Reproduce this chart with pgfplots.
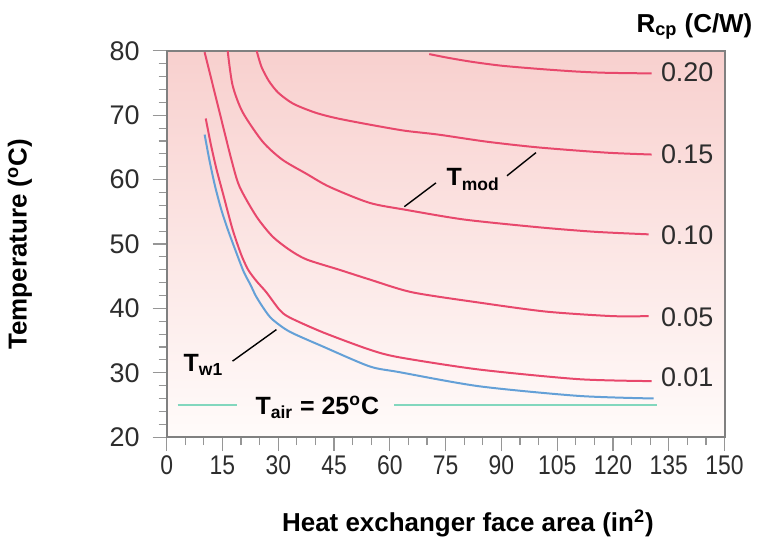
\documentclass[border=0pt]{standalone}
\usepackage{fontspec}
\setmainfont{Liberation Sans}
\usepackage{pgfplots}
\pgfplotsset{compat=1.18}

\definecolor{rcurve}{RGB}{232,72,108}
\definecolor{bcurve}{RGB}{100,160,215}
\definecolor{gcurve}{RGB}{130,215,190}
\definecolor{bgtop}{RGB}{248,208,206}
\definecolor{bgbot}{RGB}{255,251,250}
\definecolor{tickgray}{RGB}{150,150,150}
\definecolor{labgray}{RGB}{45,45,45}

\newcommand{\tfont}{\fontsize{13.5bp}{16bp}\selectfont}
\newcommand{\bfont}{\fontsize{13bp}{15bp}\selectfont\bfseries}

\begin{document}
\begin{tikzpicture}
\begin{axis}[
  scale only axis,
  width=279.5bp, height=193.5bp,
  xmin=0, xmax=150, ymin=20, ymax=80,
  xtick={0,15,...,150}, ytick={20,30,...,80},
  minor x tick num=2, minor y tick num=4,
  tick align=outside,
  xtick pos=bottom, ytick pos=left,
  major tick length=7bp, minor tick length=4bp,
  every tick/.style={tickgray, line width=0.6bp},
  axis line style={gray, line width=1bp},
  axis background/.style={top color=bgtop, bottom color=bgbot},
  /pgf/number format/assume math mode=true,
  ticklabel style={font=\tfont, text=labgray},
  xticklabel style={xscale=0.85, yshift=1bp},
  yticklabel style={xshift=-3bp},
  clip=false,
  xlabel={Heat exchanger face area (in\textsuperscript{2})},
  ylabel={Temperature (\textsuperscript{o}C)},
  xlabel style={font=\bfont, at={(axis description cs:0.54,-0.2230)}, anchor=center},
  ylabel style={font=\bfont, at={(axis description cs:-0.263,0.499)}, anchor=center},
  every axis plot/.append style={line width=1bp, mark=none, smooth, tension=0.45},
]
% R_cp = 0.20
\addplot[rcurve] coordinates {
  (70.6,79.5)(75.9,78.9)(82.1,78.3)(90,77.7)(100.1,77.2)(110,76.8)(118.1,76.6)(130.4,76.5)
};
% R_cp = 0.15
\addplot[rcurve] coordinates {
  (24.2,80)(25.5,77.5)(27.5,75.3)(30,73.5)(34,71.8)(40,70.4)(46,69.5)(55,68.5)
  (64,67.6)(73,67)(86,65.9)(100,65)(118,64.2)(130.4,63.9)
};
% R_cp = 0.10
\addplot[rcurve] coordinates {
  (16.4,80)(17.7,74.7)(20.4,70.5)(25.8,65.9)(31.1,63.1)(37.6,60.9)(43.7,58.9)
  (54.5,56.4)(64.4,55.3)(80,53.8)(100,52.6)(115,51.9)(129.6,51.5)
};
% R_cp = 0.05
\addplot[rcurve] coordinates {
  (10.2,79.8)(14.2,70.5)(17.4,63.1)(19.6,58.9)(24.1,54.3)(28.4,51.2)(33,49.1)
  (37.6,47.6)(46.4,46)(54.5,44.5)(66,42.5)(84,40.9)(102,39.5)(119.7,38.8)(129.6,38.8)
};
% R_cp = 0.01
\addplot[rcurve] coordinates {
  (10.5,69.5)(11.9,65.4)(13.4,61.6)(15.2,57.7)(17.7,52.3)(20.0,48.4)(21.9,46)
  (24.2,44.2)(26.8,42.5)(30.3,39.8)(33,38.6)(41.9,36.3)(54.5,33.6)(62.5,32.4)
  (84,30.5)(110.8,29)(130.4,28.7)
};
% T_w1
\addplot[bcurve] coordinates {
  (10.2,67)(11.5,63)(13.0,59)(14.7,55.3)(16.4,52.3)(18.5,49)(20.7,45.7)
  (22.5,43.7)(24.0,41.9)(26.3,39.8)(28.4,38.3)(33,36.4)(41.9,34.1)(54.5,31)
  (62.5,30.1)(84,27.9)(110.8,26.4)(130.9,26)
};
% T_air
\addplot[gcurve] coordinates {(2.95,25)(18.8,25)};
\addplot[gcurve] coordinates {(61.2,25)(131.7,25)};
% leader lines
\addplot[black, line width=0.7bp] coordinates {(63.9,55.8)(72.4,59.5)};
\addplot[black, line width=0.7bp] coordinates {(91.5,60.6)(99.3,64.2)};
\addplot[black, line width=0.7bp] coordinates {(17.7,31.8)(29.5,36.7)};

\node[font=\fontsize{12.5bp}{14bp}\selectfont\bfseries] at (axis cs:82.4,60) {T\textsubscript{mod}};
\node[font=\fontsize{12.5bp}{14bp}\selectfont\bfseries] at (axis cs:9.9,31.2) {T\textsubscript{w1}};
\node[font=\fontsize{12.5bp}{14bp}\selectfont\bfseries] at (axis cs:40.5,24.6) {T\textsubscript{air} = 25\textsuperscript{o}C};

\node[font=\tfont, text=labgray, anchor=west, inner sep=0pt] at (axis cs:132.8,76.7) {0.20};
\node[font=\tfont, text=labgray, anchor=west, inner sep=0pt] at (axis cs:132.8,63.9) {0.15};
\node[font=\tfont, text=labgray, anchor=west, inner sep=0pt] at (axis cs:132.8,51.3) {0.10};
\node[font=\tfont, text=labgray, anchor=west, inner sep=0pt] at (axis cs:132.8,38.6) {0.05};
\node[font=\tfont, text=labgray, anchor=west, inner sep=0pt] at (axis cs:132.8,29.3) {0.01};

\node[font=\bfont, anchor=base] at (axis cs:141.9,82.9) {R\textsubscript{cp} (C/W)};

\path (rel axis cs:-0.2988,-0.2739) rectangle (rel axis cs:1.059,1.1318);
\end{axis}
\end{tikzpicture}
\end{document}
